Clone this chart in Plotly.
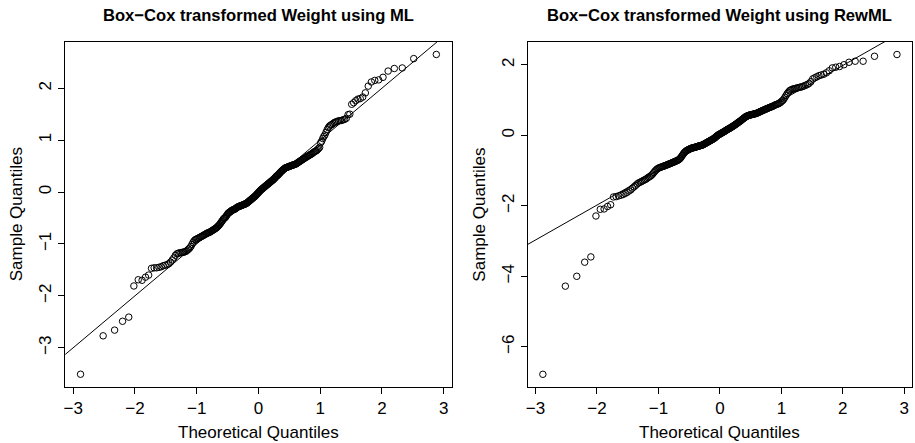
import plotly.graph_objects as go
from statistics import NormalDist

# ---- data (sorted sample quantiles) ----
titles = ["Box\u2212Cox transformed Weight using ML",
          "Box\u2212Cox transformed Weight using RewML"]
x_label = "Theoretical Quantiles"
y_label = "Sample Quantiles"

ml_sample = [
    -3.51, -2.77, -2.66, -2.49, -2.41, -1.81, -1.69, -1.70, -1.64, -1.60,
    -1.47, -1.46, -1.46, -1.45, -1.44, -1.42, -1.41, -1.40, -1.38, -1.35,
    -1.31, -1.27, -1.22, -1.19, -1.18, -1.17, -1.17, -1.16, -1.16, -1.15,
    -1.14, -1.12, -1.10, -1.08, -1.05, -1.01, -0.97, -0.94, -0.92, -0.91,
    -0.90, -0.89, -0.88, -0.87, -0.86, -0.85, -0.84, -0.83, -0.82, -0.81,
    -0.80, -0.79, -0.785, -0.78, -0.77, -0.76, -0.75, -0.74, -0.73, -0.72,
    -0.71, -0.70, -0.69, -0.675, -0.66, -0.645, -0.63, -0.61, -0.59, -0.57,
    -0.55, -0.53, -0.51, -0.50, -0.49, -0.47, -0.45, -0.43, -0.41, -0.40,
    -0.39, -0.38, -0.37, -0.36, -0.35, -0.345, -0.34, -0.335, -0.33, -0.32,
    -0.31, -0.30, -0.29, -0.285, -0.28, -0.275, -0.27, -0.265, -0.26, -0.255,
    -0.25, -0.245, -0.24, -0.235, -0.23, -0.225, -0.22, -0.21, -0.20, -0.19,
    -0.18, -0.17, -0.16, -0.15, -0.14, -0.13, -0.12, -0.11, -0.10, -0.09,
    -0.08, -0.07, -0.055, -0.04, -0.03, -0.02,
    0.00, 0.01, 0.02, 0.035, 0.045, 0.055, 0.065, 0.075, 0.085, 0.095,
    0.105, 0.115, 0.125, 0.135, 0.145, 0.155, 0.165, 0.175, 0.185, 0.195,
    0.205, 0.215, 0.225, 0.235, 0.245, 0.26, 0.27, 0.285, 0.30, 0.31,
    0.32, 0.33, 0.345, 0.36, 0.37, 0.385, 0.40, 0.41, 0.42, 0.435,
    0.445, 0.455, 0.465, 0.47, 0.475, 0.48, 0.485, 0.49, 0.495, 0.50,
    0.505, 0.51, 0.515, 0.52, 0.525, 0.53, 0.535, 0.54, 0.55, 0.56,
    0.57, 0.58, 0.59, 0.60, 0.61, 0.62, 0.63, 0.64, 0.65, 0.66,
    0.67, 0.68, 0.69, 0.70, 0.71, 0.72, 0.73, 0.74, 0.755, 0.77,
    0.78, 0.79, 0.80, 0.82, 0.84, 0.86, 0.95, 0.98, 1.03, 1.07,
    1.10, 1.15, 1.20, 1.24, 1.27, 1.29, 1.30, 1.32, 1.34, 1.35,
    1.36, 1.37, 1.375, 1.38, 1.39, 1.40, 1.42, 1.49, 1.50, 1.69,
    1.72, 1.76, 1.79, 1.80, 1.83, 1.91, 2.04, 2.12, 2.15, 2.16,
    2.21, 2.33, 2.38, 2.39, 2.57, 2.65,
]

rewml_sample = [
    -6.78, -4.28, -4.00, -3.60, -3.45, -2.29, -2.10, -2.09, -2.02, -1.97,
    -1.75, -1.74, -1.72, -1.70, -1.68, -1.65, -1.62, -1.58, -1.55, -1.50,
    -1.46, -1.42, -1.38, -1.35, -1.33, -1.31, -1.29, -1.27, -1.25, -1.23,
    -1.20, -1.18, -1.16, -1.13, -1.10, -1.06, -1.02, -0.99, -0.96, -0.94,
    -0.925, -0.915, -0.905, -0.895, -0.885, -0.875, -0.865, -0.855, -0.845, -0.835,
    -0.825, -0.815, -0.805, -0.795, -0.785, -0.775, -0.765, -0.755, -0.745, -0.735,
    -0.725, -0.715, -0.705, -0.69, -0.67, -0.65, -0.62, -0.59, -0.56, -0.53,
    -0.50, -0.48, -0.46, -0.445, -0.43, -0.42, -0.41, -0.40, -0.39, -0.38,
    -0.37, -0.365, -0.36, -0.355, -0.35, -0.345, -0.34, -0.335, -0.33, -0.32,
    -0.315, -0.31, -0.305, -0.30, -0.295, -0.29, -0.285, -0.28, -0.27, -0.26,
    -0.25, -0.24, -0.23, -0.22, -0.21, -0.20, -0.19, -0.18, -0.17, -0.16,
    -0.15, -0.14, -0.13, -0.12, -0.11, -0.10, -0.09, -0.075, -0.06, -0.045,
    -0.03, -0.015, 0.0, 0.01, 0.02, 0.03,
    0.04, 0.05, 0.06, 0.07, 0.08, 0.09, 0.10, 0.11, 0.12, 0.135,
    0.145, 0.155, 0.165, 0.175, 0.185, 0.195, 0.205, 0.215, 0.225, 0.24,
    0.25, 0.26, 0.275, 0.285, 0.295, 0.31, 0.32, 0.335, 0.35, 0.36,
    0.375, 0.39, 0.40, 0.415, 0.43, 0.445, 0.46, 0.475, 0.49, 0.505,
    0.52, 0.53, 0.54, 0.55, 0.56, 0.565, 0.57, 0.575, 0.58, 0.585,
    0.59, 0.595, 0.60, 0.605, 0.61, 0.615, 0.62, 0.63, 0.64, 0.65,
    0.66, 0.67, 0.68, 0.69, 0.70, 0.71, 0.72, 0.73, 0.74, 0.75,
    0.76, 0.77, 0.78, 0.79, 0.80, 0.81, 0.82, 0.83, 0.845, 0.86,
    0.87, 0.88, 0.89, 0.90, 0.92, 0.94, 0.97, 0.99, 1.03, 1.08,
    1.13, 1.18, 1.22, 1.26, 1.28, 1.30, 1.31, 1.32, 1.33, 1.34,
    1.35, 1.36, 1.37, 1.38, 1.40, 1.42, 1.44, 1.47, 1.52, 1.60,
    1.63, 1.66, 1.69, 1.71, 1.73, 1.77, 1.83, 1.91, 1.93, 1.95,
    2.00, 2.07, 2.10, 2.10, 2.24, 2.29,
]

# reference lines (intercept, slope)
ml_line = (0.0, 1.0)
rewml_line = (0.0, 0.99)

x_ticks = [-3, -2, -1, 0, 1, 2, 3]
ml_y_ticks = [-3, -2, -1, 0, 1, 2]
rewml_y_ticks = [-6, -4, -2, 0, 2]


def theoretical(n):
    # qqnorm positions: ppoints(n) with a = 0.5
    nd = NormalDist()
    return [nd.inv_cdf((i - 0.5) / n) for i in range(1, n + 1)]


W, H = 915, 443
FONT = "Liberation Sans, Arial, Helvetica, sans-serif"
FS = 17
FS_TITLE = 16.6

fig = go.Figure()

panels = [
    dict(sample=ml_sample, line=ml_line, yt=ml_y_ticks, yr=[-3.756, 2.89],
         xa="x", ya="y", px=(63.3, 450.7), title=titles[0]),
    dict(sample=rewml_sample, line=rewml_line, yt=rewml_y_ticks, yr=[-7.14, 2.645],
         xa="x2", ya="y2", px=(526.7, 912.3), title=titles[1]),
]

top_px, bot_px = 42, 387
ydom = [(H - bot_px) / H, (H - top_px) / H]
xr = [-3.13, 3.13]

annotations = []
for k, p in enumerate(panels):
    xs = theoretical(len(p["sample"]))
    fig.add_trace(go.Scatter(
        x=xs, y=p["sample"], mode="markers", xaxis=p["xa"], yaxis=p["ya"],
        marker=dict(symbol="circle-open", size=6.5, color="black",
                    line=dict(width=1, color="black")),
        showlegend=False, hoverinfo="skip"))
    a, b = p["line"]
    lx = [xr[0], xr[1]]
    fig.add_trace(go.Scatter(
        x=lx, y=[a + b * v for v in lx], mode="lines", xaxis=p["xa"], yaxis=p["ya"],
        line=dict(color="black", width=1), showlegend=False, hoverinfo="skip"))

    dom = [p["px"][0] / W, p["px"][1] / W]
    sfx = "" if k == 0 else "2"
    common = dict(showgrid=False, zeroline=False, showline=True, mirror=True,
                  linecolor="black", linewidth=1, ticks="outside", ticklen=6,
                  tickwidth=1, tickcolor="black",
                  tickfont=dict(family=FONT, size=FS, color="black"))
    fig.update_layout(**{
        "xaxis" + sfx: dict(domain=dom, range=xr, tickmode="array", tickvals=x_ticks,
                            anchor="y" + sfx, **common),
        "yaxis" + sfx: dict(domain=ydom, range=p["yr"], tickmode="array", tickvals=p["yt"],
                            anchor="x" + sfx, tickangle=-90, **common),
    })
    cx = (dom[0] + dom[1]) / 2
    annotations.append(dict(text="<b>" + p["title"] + "</b>", x=cx, y=(H - 15) / H,
                            xref="paper", yref="paper", showarrow=False,
                            xanchor="center", yanchor="middle",
                            font=dict(family=FONT, size=FS_TITLE, color="black")))
    annotations.append(dict(text=x_label, x=cx, y=(H - 432) / H,
                            xref="paper", yref="paper", showarrow=False,
                            xanchor="center", yanchor="middle",
                            font=dict(family=FONT, size=FS, color="black")))
    annotations.append(dict(text=y_label, x=(p["px"][0] - 48.5) / W,
                            y=(ydom[0] + ydom[1]) / 2, textangle=-90,
                            xref="paper", yref="paper", showarrow=False,
                            xanchor="center", yanchor="middle",
                            font=dict(family=FONT, size=FS, color="black")))

fig.update_layout(width=W, height=H, autosize=False,
                  margin=dict(l=0, r=0, t=0, b=0, pad=0),
                  paper_bgcolor="white", plot_bgcolor="white",
                  annotations=annotations)

fig.write_html("out.html",
               config={"displayModeBar": False},
               post_script="document.body.style.margin='0px';"
                           "document.body.style.overflow='hidden';")
